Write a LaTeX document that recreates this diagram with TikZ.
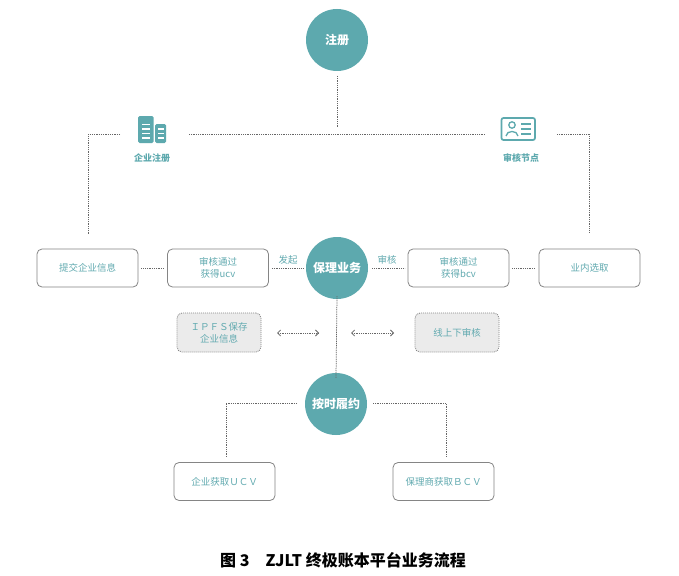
\documentclass[tikz,border=0pt]{standalone}
\usepackage{fontspec}
\setmainfont{Noto Sans CJK SC}
\usetikzlibrary{arrows.meta}
\definecolor{tealc}{HTML}{5DA9AE}
\definecolor{tealt}{HTML}{62AAB0}
\definecolor{boxgray}{HTML}{858585}
\definecolor{linegray}{HTML}{666666}
\definecolor{gfill}{HTML}{EBEBEB}
\tikzset{
  circ/.style={circle, fill=tealc, minimum size=62pt, inner sep=0pt, text=white, font=\bfseries\fontsize{12}{14}\selectfont},
  box/.style={draw=boxgray, rounded corners=5pt, minimum width=101pt, minimum height=38pt, line width=0.8pt, text=tealt, font=\fontsize{9.5}{12}\selectfont, align=center, inner sep=1pt},
  gbox/.style={box, fill=gfill, dash pattern=on 1pt off 1pt, minimum width=84pt, minimum height=39pt},
  link/.style={draw=linegray, line width=0.75pt, dash pattern=on 1pt off 0.8pt},
  dbl/.style={link, {Straight Barb[length=3pt,width=6pt]}-{Straight Barb[length=3pt,width=6pt]}},
  lab/.style={text=tealt, font=\fontsize{9.5}{11}\selectfont, inner sep=0pt},
  iconlab/.style={text=tealc, font=\bfseries\fontsize{9}{10}\selectfont, inner sep=0pt}
}
\begin{document}
\begin{tikzpicture}[x=1pt,y=-1pt]
\useasboundingbox[fill=white] (0,0) rectangle (679,575);
% circles
\node[circ] (reg) at (337,40) {注册};
\node[circ] (fact) at (337,268) {保理业务};
\node[circ] (perf) at (336,404) {按时履约};
% boxes
\node[box] (b1) at (87.5,268) {提交企业信息};
\node[box] (b2) at (218,268) {审核通过\\获得ucv};
\node[box] (b3) at (458.5,268) {审核通过\\获得bcv};
\node[box] (b4) at (589.5,268) {业内选取};
\node[gbox] (g1) at (219,332.5) {ＩＰＦＳ保存\\企业信息};
\node[gbox] (g2) at (457,332.5) {线上下审核};
\node[box] (u) at (224.5,481.5) {企业获取ＵＣＶ};
\node[box] (bc) at (443.5,481.5) {保理商获取ＢＣＶ};
% icons
\node[iconlab] (lreg) at (152,158) {企业注册};
\node[iconlab] (lchk) at (521,158) {审核节点};
\fill[tealc, rounded corners=1.5pt] (138,116) rectangle (153.5,143);
\fill[tealc, rounded corners=1.5pt] (155,124) rectangle (166,143);
\foreach \yy in {123.5,128,132.5,137}{
  \fill[white] (142,\yy) rectangle (150,\yy+1.6);
}
\foreach \yy in {128,132.5,137}{
  \fill[white] (157.5,\yy) rectangle (163.5,\yy+1.6);
}
\draw[tealc, line width=1.7pt, rounded corners=2pt] (501.5,118) rectangle (535,140);
\draw[tealc, line width=1.3pt] (512,125) circle (3.2pt);
\draw[tealc, line width=1.3pt] (506,136) .. controls (506.5,130) and (517.5,130) .. (518,136);
\foreach \yy in {124,129,134}{
  \draw[tealc, line width=1.3pt] (521,\yy) -- (530.5,\yy);
}
% top connectors
\coordinate (r1) at (337,76);
\coordinate (r2) at (337,128);
\coordinate (hL) at (189,134);
\coordinate (hR) at (485,134);
\coordinate (lA) at (120,134);
\coordinate (lB) at (88,134);
\coordinate (lC) at (88,235);
\coordinate (rA) at (557,134);
\coordinate (rB) at (589,134);
\coordinate (rC) at (589,232);
\draw[link] (r1) -- (r2);
\draw[link] (hL) -- (hR);
\draw[link] (lA) -- (lB) -- (lC);
\draw[link] (rA) -- (rB) -- (rC);
% middle row
\draw[link] ([xshift=3pt]b1.east) -- ([xshift=-4pt]b2.west);
\draw[link] ([xshift=3pt]b2.east) -- ([xshift=-3pt]fact.west);
\draw[link] ([xshift=4pt]fact.east) -- ([xshift=-3pt]b3.west);
\draw[link] ([xshift=3pt]b3.east) -- ([xshift=-4pt]b4.west);
\node[lab] (fq) at (288,260) {发起};
\node[lab] (sh) at (387,260) {审核};
% vertical to perf
\draw[link] ([yshift=3pt]fact.south) -- ([yshift=-5pt]perf.north);
% double arrows
\coordinate (a1) at (277,333);
\coordinate (a2) at (319,333);
\coordinate (a3) at (351,333);
\coordinate (a4) at (394,333);
\draw[dbl] (a1) -- (a2);
\draw[dbl] (a3) -- (a4);
% bottom connectors
\coordinate (pL) at (297,403);
\coordinate (pL2) at (226,403);
\coordinate (pL3) at (226,457);
\coordinate (pR) at (373,403);
\coordinate (pR2) at (446,403);
\coordinate (pR3) at (446,457);
\draw[link] (pL) -- (pL2) -- (pL3);
\draw[link] (pR) -- (pR2) -- (pR3);
% caption
\node[font=\bfseries\fontsize{16}{18}\selectfont, inner sep=0pt] (cap) at (343,560) {图 3\quad ZJLT 终极账本平台业务流程};
\end{tikzpicture}
\end{document}
